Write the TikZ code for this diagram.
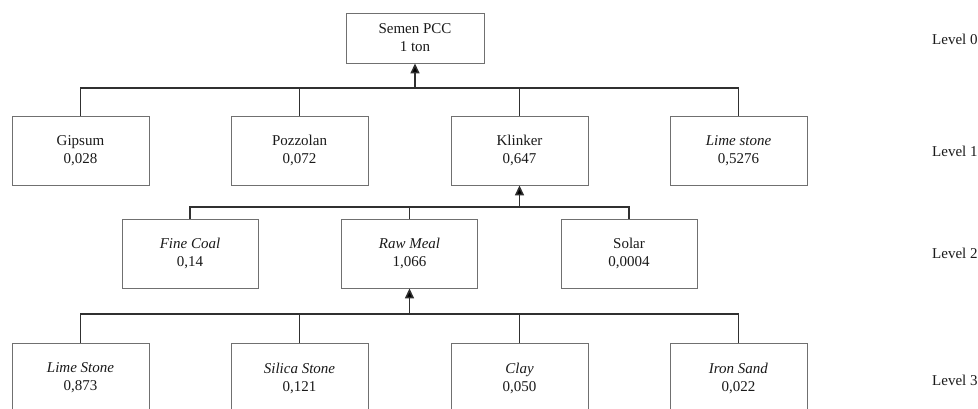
\documentclass[tikz,border=0pt]{standalone}
\usepackage{fontspec}
\setmainfont{Liberation Serif}
\usetikzlibrary{arrows.meta}
\definecolor{boxline}{HTML}{707070}
\definecolor{connline}{HTML}{303030}
\definecolor{txt}{HTML}{1A1A1A}
\begin{document}
\begin{tikzpicture}[x=1pt,y=-1pt,
  box/.style={draw=boxline, line width=0.9pt, fill=white, align=center, inner sep=0pt,
    minimum width=137pt, minimum height=69pt, text=txt, font=\fontsize{15}{18}\selectfont},
  topbox/.style={box, minimum width=138pt, minimum height=50pt},
  conn/.style={draw=connline, line width=1.5pt},
  arr/.style={conn, -{Triangle[length=10pt,width=9pt,fill=black]}},
  lvl/.style={anchor=west, inner sep=0pt, text=txt, font=\fontsize{15}{18}\selectfont}]
\clip (0,0) rectangle (978,409);
\fill[white] (0,0) rectangle (978,409);

% Level 0
\node[topbox] (semen) at (415,38) {Semen PCC\\1 ton};
% Level 1
\node[box] (gipsum) at (80.5,150.5) {Gipsum\\0,028};
\node[box] (pozzolan) at (299.5,150.5) {Pozzolan\\0,072};
\node[box] (klinker) at (519.5,150.5) {Klinker\\0,647};
\node[box] (limestoneA) at (738.5,150.5) {\textit{Lime stone}\\0,5276};
% Level 2
\node[box, minimum width=136pt] (finecoal) at (190,253.5) {\textit{Fine Coal}\\0,14};
\node[box, minimum width=136pt] (rawmeal) at (409.5,253.5) {\textit{Raw Meal}\\1,066};
\node[box, minimum width=136pt] (solar) at (629,253.5) {Solar\\0,0004};
% Level 3
\node[box] (limestoneB) at (80.5,378) {\textit{Lime Stone}\\0,873};
\node[box] (silica) at (299.5,378) {\textit{Silica Stone}\\0,121};
\node[box] (clay) at (519.5,378) {\textit{Clay}\\0,050};
\node[box] (ironsand) at (738.5,378) {\textit{Iron Sand}\\0,022};

% Level labels
\node[lvl] (l0) at (932,39) {Level 0};
\node[lvl] (l1) at (932,151) {Level 1};
\node[lvl] (l2) at (932,253) {Level 2};
\node[lvl] (l3) at (932,380) {Level 3};

% Bus 1
\coordinate (b1) at (415,88);
\draw[conn] (gipsum.north) |- (b1) -| (limestoneA.north);
\draw[conn] (pozzolan.north) -- (pozzolan.north |- b1);
\draw[conn] (klinker.north) -- (klinker.north |- b1);
\draw[arr] (b1) -- (semen.south);

% Bus 2
\coordinate (b2) at (519.5,207);
\draw[conn] (finecoal.north) |- (b2) -| (solar.north);
\draw[conn] (rawmeal.north) -- (rawmeal.north |- b2);
\draw[arr] (b2) -- (klinker.south);

% Bus 3
\coordinate (b3) at (409.5,314);
\draw[conn] (limestoneB.north) |- (b3) -| (ironsand.north);
\draw[conn] (silica.north) -- (silica.north |- b3);
\draw[conn] (clay.north) -- (clay.north |- b3);
\draw[arr] (b3) -- (rawmeal.south);
\end{tikzpicture}
\end{document}
